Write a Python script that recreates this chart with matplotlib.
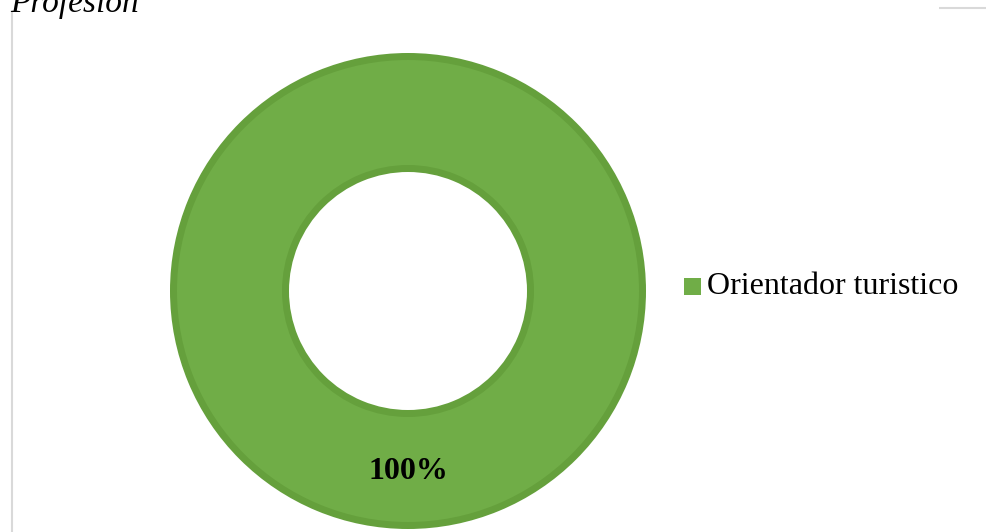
import matplotlib.pyplot as plt

# Data
categories = ["Orientador turistico"]
values = [100]
title_text = "Profesión"

fill_color = "#70AD47"
rim_color = "#65A03C"

W, H = 986, 532
fig = plt.figure(figsize=(W / 100, H / 100), dpi=100)
ax = fig.add_axes([0, 0, 1, 1])

cx, cy = 408, 291
r_out, r_in = 238, 119
rim = 7

# Darker rim ring underneath, lighter body on top
ax.pie(values, radius=r_out, center=(cx, cy), colors=[rim_color],
       startangle=90, counterclock=False, frame=True,
       wedgeprops=dict(width=r_out - r_in, linewidth=0))
ax.pie(values, radius=r_out - rim, center=(cx, cy), colors=[fill_color],
       startangle=90, counterclock=False, frame=True,
       wedgeprops=dict(width=r_out - r_in - 2 * rim, linewidth=0))

ax.set_xlim(0, W)
ax.set_ylim(H, 0)
ax.set_aspect("equal")
ax.axis("off")

# Percentage label in the bottom of the ring
total = sum(values)
ax.text(cx, cy + (r_out + r_in) / 2 + 2, f"{values[0] / total * 100:.0f}%",
        ha="center", va="center", fontsize=23, fontweight="bold",
        family="Liberation Serif", color="black")

# Legend
ax.add_patch(plt.Rectangle((684, 278), 17, 17, color=fill_color, lw=0))
ax.text(707, 286, categories[0], ha="left", va="center", fontsize=23,
        family="Liberation Serif", color="black")

# Title (partially cut at the top edge)
ax.text(10, 12, title_text, ha="left", va="baseline", fontsize=24,
        style="italic", family="Liberation Serif", color="black")

# Frame fragments
ax.plot([12, 12], [10, H], color="#D9D9D9", lw=1.5, solid_capstyle="butt")
ax.plot([939, W], [7.5, 7.5], color="#D9D9D9", lw=1.5, solid_capstyle="butt")

fig.savefig("out.png", dpi=100)
